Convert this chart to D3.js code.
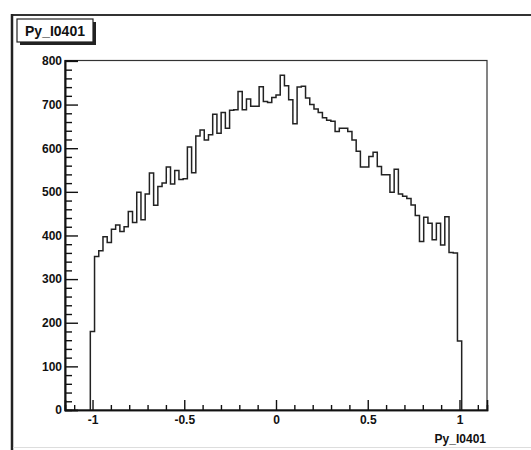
<!DOCTYPE html>
<html>
<head>
<meta charset="utf-8">
<script src="https://cdn.jsdelivr.net/npm/d3@7/dist/d3.min.js"></script>
<style>
  html, body { margin: 0; padding: 0; background: #fff; }
  svg { display: block; }
  .lbl { font-family: "Liberation Sans", Arial, Helvetica, sans-serif; font-weight: bold; fill: #111; }
</style>
</head>
<body>
<svg id="c" width="531" height="450"></svg>
<script>
// Histogram definition: 100 equal bins over [-1.15, 1.15]
const histName = "Py_I0401";
const xMin = -1.15, xMax = 1.15, nBins = 100;
// index of the first filled bin; the counts below fill consecutive bins from there
const firstBin = 6;
const counts = [
  180, 352, 365, 397, 384, 414, 424, 409, 420, 455,
  430, 499, 436, 495, 543, 469, 512, 520, 557, 518,
  549, 528, 530, 603, 544, 628, 642, 619, 631, 678,
  634, 682, 646, 687, 688, 730, 688, 713, 696, 696,
  741, 707, 705, 716, 722, 767, 743, 711, 656, 740,
  742, 715, 700, 690, 682, 670, 664, 662, 638, 646,
  646, 638, 619, 593, 557, 557, 581, 591, 558, 539,
  539, 499, 552, 495, 490, 485, 470, 446, 386, 442,
  428, 390, 428, 378, 443, 361, 360, 158
];

// Axis ticks
const xMajor = [-1, -0.5, 0, 0.5, 1];
const xMinor = [-1.1, -0.9, -0.8, -0.7, -0.6, -0.4, -0.3, -0.2, -0.1,
                0.1, 0.2, 0.3, 0.4, 0.6, 0.7, 0.8, 0.9, 1.1];
const yMajor = [0, 100, 200, 300, 400, 500, 600, 700, 800];
const yMinor = [20, 40, 60, 80, 120, 140, 160, 180, 220, 240, 260, 280,
                320, 340, 360, 380, 420, 440, 460, 480, 520, 540, 560, 580,
                620, 640, 660, 680, 720, 740, 760, 780];
const yTop = 801;

const svg = d3.select("#c");

// frame geometry
const L = 65, R = 487, T = 60.5, B = 410;

const x = d3.scaleLinear().domain([xMin, xMax]).range([L, R]);
const y = d3.scaleLinear().domain([0, yTop]).range([B, T]);

// canvas border (bevel lines)
svg.append("line").attr("x1", 12).attr("x2", 531).attr("y1", 15).attr("y2", 15)
  .attr("stroke", "#333").attr("stroke-width", 2);
svg.append("line").attr("x1", 12).attr("x2", 12).attr("y1", 14).attr("y2", 450)
  .attr("stroke", "#222").attr("stroke-width", 2.5);
svg.append("line").attr("x1", 13).attr("x2", 531).attr("y1", 447.5).attr("y2", 447.5)
  .attr("stroke", "#ddd").attr("stroke-width", 1);

// plot frame
svg.append("rect").attr("x", L).attr("y", T).attr("width", R - L).attr("height", B - T)
  .attr("fill", "none").attr("stroke", "#333").attr("stroke-width", 1.2);

// histogram outline
const bw = (xMax - xMin) / nBins;
const pts = [];
const lo0 = xMin + firstBin * bw;
pts.push([lo0, 0]);
counts.forEach((c, i) => pts.push([xMin + (firstBin + i) * bw, c]));
const hiLast = xMin + (firstBin + counts.length) * bw;
pts.push([hiLast, counts[counts.length - 1]]);
pts.push([hiLast, 0]);

const line = d3.line().x(d => x(d[0])).y(d => y(d[1])).curve(d3.curveStepAfter);
svg.append("path").datum(pts).attr("d", line)
  .attr("fill", "none").attr("stroke", "#222").attr("stroke-width", 1.5)
  .attr("stroke-linejoin", "miter");

// Y axis (ticks point into the frame)
const gy = svg.append("g").attr("transform", `translate(${L},0)`);
gy.call(d3.axisLeft(y).tickValues(yMinor).tickSize(-7).tickFormat(""));
const gyM = svg.append("g").attr("transform", `translate(${L},0)`);
gyM.call(d3.axisLeft(y).tickValues(yMajor).tickSize(-13).tickPadding(3).tickFormat(d3.format("d")));

// X axis
const gx = svg.append("g").attr("transform", `translate(0,${B})`);
gx.call(d3.axisBottom(x).tickValues(xMinor).tickSize(-5).tickFormat(""));
const gxM = svg.append("g").attr("transform", `translate(0,${B})`);
gxM.call(d3.axisBottom(x).tickValues(xMajor).tickSize(-10).tickPadding(5)
  .tickFormat(d => d === 0 ? "0" : String(d)));

svg.selectAll(".domain").attr("stroke", "#111").attr("stroke-width", 1.6);
svg.selectAll(".tick line").attr("stroke", "#111").attr("stroke-width", 1.4);
svg.selectAll(".tick text").attr("class", "lbl").style("font-size", "12px")
  .style("font-family", "'Liberation Sans', Arial, sans-serif").style("font-weight", "bold")
  .attr("fill", "#111");

// x axis title
svg.append("text").attr("class", "lbl").attr("x", R - 1).attr("y", 443)
  .attr("text-anchor", "end").style("font-size", "12px").text(histName);

// title box with shadow
const bx = 17, by = 19, bwid = 76, bh = 23;
svg.append("rect").attr("x", bx + 3).attr("y", by + 3).attr("width", bwid).attr("height", bh)
  .attr("fill", "#222");
svg.append("rect").attr("x", bx).attr("y", by).attr("width", bwid).attr("height", bh)
  .attr("fill", "#fff").attr("stroke", "#222").attr("stroke-width", 1.2);
svg.append("text").attr("class", "lbl").attr("x", bx + bwid / 2).attr("y", by + 17)
  .attr("text-anchor", "middle").style("font-size", "14px").text(histName);
</script>
</body>
</html>
